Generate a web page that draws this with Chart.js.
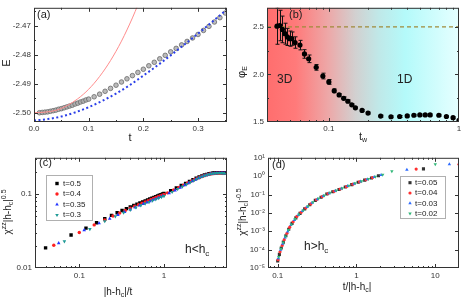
<!DOCTYPE html>
<html><head><meta charset="utf-8">
<script src="https://cdn.jsdelivr.net/npm/chart.js@4.4.1/dist/chart.umd.min.js"></script>
<style>
html,body{margin:0;padding:0;background:#fff;}
#wrap{position:relative;width:464px;height:301px;overflow:hidden;background:#fff;}
canvas{position:absolute;}
</style></head><body>
<div id="wrap">
<canvas id="ca" width="232" height="150" style="left:0;top:0"></canvas>
<canvas id="cb" width="232" height="150" style="left:232px;top:0"></canvas>
<canvas id="cc" width="232" height="151" style="left:0;top:150px"></canvas>
<canvas id="cd" width="232" height="151" style="left:232px;top:150px"></canvas>
</div>
<script>
// ---------------- Panel (a) ----------------
const aT = [0.010,0.015,0.020,0.025,0.030,0.035,0.040,0.045,0.050,0.055,0.060,0.065,0.070,0.075,0.080,0.085,0.090,0.095,0.100,
  0.11,0.12,0.13,0.14,0.15,0.16,0.17,0.18,0.19,0.20,0.21,0.22,0.23,0.24,0.25,0.26,0.27,0.28,0.29,0.30,0.31,0.32,0.33,0.34,0.35];
const aE = [-2.5000,-2.4999,-2.4998,-2.4997,-2.4995,-2.4993,-2.4991,-2.4988,-2.4986,-2.4983,-2.4980,-2.4977,-2.4974,-2.4970,-2.4967,-2.4963,-2.4960,-2.4956,-2.4953,
  -2.4945,-2.4936,-2.4926,-2.4916,-2.4905,-2.4894,-2.4883,-2.4872,-2.4861,-2.4850,-2.4838,-2.4826,-2.4814,-2.4802,-2.4790,-2.4778,-2.4766,-2.4754,-2.4742,-2.4730,-2.4716,-2.4702,-2.4687,-2.4672,-2.4656];
const aRedT = [0,0.02,0.04,0.06,0.08,0.10,0.12,0.14,0.16,0.18,0.19];
const aRedE = [-2.5000,-2.4998,-2.4992,-2.4976,-2.4952,-2.4919,-2.4875,-2.4820,-2.4753,-2.4673,-2.4628];
const aBlueT = [0,0.025,0.05,0.075,0.10,0.125,0.15,0.175,0.20,0.225,0.25,0.275,0.30,0.325,0.35,0.355];
const aBlueE = [-2.5027,-2.5022,-2.5013,-2.4999,-2.4981,-2.4959,-2.4934,-2.4905,-2.4872,-2.4838,-2.4802,-2.4765,-2.4727,-2.4688,-2.4648,-2.4640];
const aXTicks = [0.0,0.1,0.2,0.3];
const aYTicks = [-2.50,-2.49,-2.48,-2.47];

// ---------------- Panel (b) ----------------
const bTw  = [0.040,0.042,0.044,0.046,0.048,0.050,0.052,0.055,0.060,0.065,0.070,0.080,0.090,0.100,0.110,0.120,0.130,0.140,0.150,0.160,0.180,0.200,0.250,0.300,0.350,0.400,0.450,0.500,0.550,0.600,0.700,0.800,0.900,1.000];
const bPhi = [2.507,2.514,2.473,2.428,2.394,2.376,2.376,2.335,2.308,2.215,2.164,2.074,1.983,1.921,1.828,1.784,1.749,1.718,1.680,1.649,1.622,1.594,1.562,1.555,1.558,1.564,1.571,1.574,1.574,1.574,1.571,1.558,1.545,1.517];
const bErr = [0.19,0.16,0.14,0.11,0.09,0.08,0.07,0.06,0.05,0.045,0.04,0.03,0.03,0.025,0.02,0.015,0.015,0.015,0.01,0.01,0.01,0.01,0.01,0.01,0.01,0.01,0.01,0.01,0.01,0.01,0.01,0.01,0.01,0.01];
const bRef = 2.5;
const bXTicks = [0.1,1];
const bYTicks = [1.5,2.0,2.5];

// ---------------- Panel (c) ----------------
const cLabels = ['t=0.5','t=0.4','t=0.35','t=0.3'];
const c1x = [0.04,0.08,0.12,0.16,0.20,0.24,0.28,0.32,0.36,0.40,0.44,0.48,0.52,0.56,0.60,0.64,0.68,0.72,0.76,0.80,0.84,0.88,0.92,0.96,1.00,
  1.2,1.4,1.6,1.8,2.0,2.2,2.4,2.6,2.8,3.0,3.2,3.4,3.6,3.8,4.0,4.2,4.4,4.6,4.8,5.0,5.2,5.4];
const c1y = [0.0187,0.0280,0.0347,0.0410,0.0463,0.0515,0.0560,0.0600,0.0637,0.0670,0.0702,0.0732,0.0760,0.0786,0.0811,0.0835,0.0858,0.0880,0.0902,0.0923,0.0943,0.0963,0.0983,0.1002,0.1021,
  0.1115,0.1210,0.1305,0.1398,0.1485,0.1565,0.1640,0.1705,0.1762,0.1810,0.1850,0.1882,0.1908,0.1927,0.1940,0.1948,0.1952,0.1952,0.1950,0.1946,0.1940,0.1934];
const c2x = [0.05,0.10,0.15,0.20,0.25,0.30,0.35,0.40,0.45,0.50,0.55,0.60,0.65,0.70,0.75,0.80,0.85,0.90,0.95,1.00,
  1.1,1.3,1.5,1.7,1.9,2.1,2.3,2.5,2.7,2.9,3.1,3.3,3.5,3.7,3.9,4.1,4.3,4.5,4.7,4.9,5.1,5.3,5.5];
const c2y = [0.0203,0.0303,0.0383,0.0447,0.0505,0.0556,0.0602,0.0645,0.0684,0.0720,0.0754,0.0786,0.0816,0.0845,0.0872,0.0898,0.0923,0.0947,0.0970,0.0993,
  0.1040,0.1135,0.1230,0.1325,0.1415,0.1500,0.1578,0.1648,0.1710,0.1762,0.1805,0.1840,0.1868,0.1890,0.1905,0.1915,0.1920,0.1922,0.1921,0.1918,0.1914,0.1909,0.1903];
const c3x = [0.0571,0.1143,0.1714,0.2286,0.2857,0.3429,0.4,0.4571,0.5143,0.5714,0.6286,0.6857,0.7429,0.8,0.8571,0.9143,0.9714,
  1.15,1.35,1.55,1.75,1.95,2.15,2.35,2.55,2.75,2.95,3.15,3.35,3.55,3.75,3.95,4.15,4.35,4.55,4.75,4.95,5.15,5.35];
const c3y = [0.0217,0.0326,0.0403,0.0466,0.0522,0.0572,0.0618,0.0660,0.0700,0.0737,0.0771,0.0803,0.0834,0.0863,0.0891,0.0918,0.0944,
  0.1030,0.1125,0.1220,0.1315,0.1405,0.1490,0.1570,0.1642,0.1705,0.1760,0.1806,0.1843,0.1873,0.1896,0.1912,0.1922,0.1927,0.1928,0.1926,0.1922,0.1917,0.1911];
const c4x = [0.0667,0.1333,0.2,0.2667,0.3333,0.4,0.4667,0.5333,0.6,0.6667,0.7333,0.8,0.8667,0.9333,1.0,
  1.25,1.45,1.65,1.85,2.05,2.25,2.45,2.65,2.85,3.05,3.25,3.45,3.65,3.85,4.05,4.25,4.45,4.65,4.85,5.05,5.25,5.45];
const c4y = [0.0229,0.0336,0.0430,0.0500,0.0560,0.0612,0.0660,0.0703,0.0743,0.0780,0.0815,0.0848,0.0879,0.0909,0.0938,
  0.1070,0.1170,0.1265,0.1358,0.1447,0.1530,0.1606,0.1673,0.1732,0.1782,0.1824,0.1858,0.1885,0.1904,0.1917,0.1925,0.1929,0.1929,0.1927,0.1923,0.1918,0.1912];
const cXTicks = [0.1,1];
const cYTicks = [0.01,0.1];

// ---------------- Panel (d) ----------------
const dLabels = ['t=0.05','t=0.04','t=0.03','t=0.02'];
const d1x = [0.100,0.105,0.111,0.118,0.127,0.138,0.152,0.170,0.192,0.22,0.255,0.30,0.355,0.42,0.50,0.60,0.72,0.87,1.05,1.27,1.55,1.9,7.08];
const d1y = [2.4e-5,5.5e-5,1.23e-4,2.57e-4,5.75e-4,1.29e-3,2.69e-3,5.37e-3,9.4e-3,0.0165,0.0276,0.0482,0.0716,0.107,0.141,0.189,0.255,0.348,0.466,0.605,0.797,1.06,2.51];
const d2x = [0.101,0.107,0.114,0.121,0.131,0.142,0.157,0.175,0.198,0.227,0.263,0.31,0.367,0.435,0.52,0.62,0.745,0.9,1.09,1.32,1.6,5.72,20];
const d2y = [2.84e-5,7.6e-5,1.7e-4,3.47e-4,7.8e-4,1.68e-3,3.29e-3,6.46e-3,0.0107,0.0185,0.0308,0.052,0.0776,0.113,0.150,0.20,0.269,0.367,0.491,0.638,0.834,2.42,4.44];
const d3x = [0.102,0.109,0.116,0.124,0.134,0.147,0.163,0.183,0.206,0.236,0.274,0.32,0.38,0.45,0.54,0.645,0.775,0.935,1.13,1.37,1.68,2.05,4.36,15.1];
const d3y = [3.37e-5,9.95e-5,2.1e-4,4.57e-4,9.66e-4,2.18e-3,4.15e-3,7.76e-3,0.0126,0.0212,0.0354,0.0561,0.0841,0.119,0.160,0.212,0.287,0.391,0.515,0.67,0.896,1.15,2.22,4.44];
const d4x = [0.103,0.110,0.1175,0.1255,0.137,0.149,0.166,0.186,0.21,0.242,0.28,0.33,0.39,0.46,0.555,0.66,0.80,0.96,1.16,1.42,1.74,2.15,2.81,10];
const d4y = [3.97e-5,1.11e-4,2.44e-4,5.18e-4,1.19e-3,2.37e-3,4.66e-3,8.3e-3,0.0136,0.0231,0.0381,0.0604,0.0895,0.124,0.167,0.221,0.303,0.408,0.535,0.705,0.942,1.21,1.83,4.44];
const dXTicks = [0.1,1,10];
const dYTicks = [1e-5,1e-4,1e-3,1e-2,1e-1,1,10];
const dYTickLabels = ['10\u207B\u2075','10\u207B\u2074','10\u207B\u00B3','10\u207B\u00B2','10\u207B\u00B9','10\u2070','10\u00B9'];

// ---------------- helpers ----------------
const FONT = "'Liberation Sans', Arial, Helvetica, sans-serif";
Chart.defaults.font.family = FONT;
Chart.defaults.font.size = 8;
Chart.defaults.color = '#333';
const pts = (xs, ys) => xs.map((x, i) => ({x, y: ys[i]}));

function logMinors(lo, hi) {
  const out = [];
  for (let e = Math.floor(Math.log10(lo)) - 1; e <= Math.ceil(Math.log10(hi)); e++) {
    for (let k = 2; k <= 9; k++) { const v = k * Math.pow(10, e); if (v > lo && v < hi) out.push(v); }
  }
  return out;
}

function rich(ctx, parts, x, y, size, rot, align) {
  ctx.save();
  ctx.translate(x, y);
  if (rot) ctx.rotate(rot);
  ctx.fillStyle = '#222';
  ctx.textBaseline = 'middle';
  const fs = p => (p[1] === 'n' ? size : Math.round(size * 0.66));
  let w = 0;
  parts.forEach(p => { ctx.font = fs(p) + 'px ' + FONT; w += ctx.measureText(p[0]).width; });
  let cx = align === 'left' ? 0 : -w / 2;
  parts.forEach(p => {
    ctx.font = fs(p) + 'px ' + FONT;
    const dy = p[1] === 'sub' ? size * 0.32 : (p[1] === 'sup' ? -size * 0.38 : 0);
    ctx.fillText(p[0], cx, dy);
    cx += ctx.measureText(p[0]).width;
  });
  ctx.restore();
}

function scaleCfg(type, min, max, majors, fmt, fit, isY, pad) {
  return {
    type, min, max,
    grid: {display: false, drawTicks: false, tickLength: 0}, border: {display: false},
    ticks: {autoSkip: false, maxRotation: 0, minRotation: 0, padding: pad, color: '#333', font: {size: 8},
      callback: (v, i) => fmt(majors[i], i)},
    afterBuildTicks: s => { s.ticks = majors.map(v => ({value: v})); },
    afterFit: s => { if (isY) s.width = fit; else s.height = fit; }
  };
}

const framePlugin = {
  id: 'frame',
  afterDatasetsDraw(chart, args, o) {
    const {ctx, chartArea: a} = chart;
    const xs = chart.scales.x, ys = chart.scales.y;
    ctx.save();
    ctx.strokeStyle = '#333'; ctx.lineWidth = 1;
    ctx.strokeRect(a.left + 0.5, a.top + 0.5, a.right - a.left - 1, a.bottom - a.top - 1);
    const tx = (vals, len) => vals.forEach(v => {
      const p = Math.round(xs.getPixelForValue(v)) + 0.5;
      if (p <= a.left + 1 || p >= a.right - 1) return;
      ctx.beginPath(); ctx.moveTo(p, a.bottom); ctx.lineTo(p, a.bottom - len);
      ctx.moveTo(p, a.top); ctx.lineTo(p, a.top + len); ctx.stroke();
    });
    const ty = (vals, len) => vals.forEach(v => {
      const p = Math.round(ys.getPixelForValue(v)) + 0.5;
      if (p <= a.top + 1 || p >= a.bottom - 1) return;
      ctx.beginPath(); ctx.moveTo(a.left, p); ctx.lineTo(a.left + len, p);
      ctx.moveTo(a.right, p); ctx.lineTo(a.right - len, p); ctx.stroke();
    });
    tx(o.xMaj || [], 4); tx(o.xMin || [], 2); ty(o.yMaj || [], 4); ty(o.yMin || [], 2);
    ctx.restore();
  },
  afterDraw(chart, args, o) {
    const ctx = chart.ctx;
    (o.texts || []).forEach(t => rich(ctx, t.parts, t.x, t.y, t.size, t.rot || 0, t.align));
    if (o.legend) {
      const L = o.legend;
      ctx.save();
      ctx.fillStyle = '#fff'; ctx.strokeStyle = '#b0b0b0'; ctx.lineWidth = 1;
      ctx.fillRect(L.x0, L.y0, L.x1 - L.x0, L.y1 - L.y0);
      ctx.strokeRect(L.x0 + 0.5, L.y0 + 0.5, L.x1 - L.x0, L.y1 - L.y0);
      L.items.forEach((it, i) => {
        const y = L.rows[i];
        ctx.fillStyle = it.color;
        drawMarker(ctx, it.style, L.mx, y, it.r);
        ctx.fillStyle = '#222';
        ctx.font = '8px ' + FONT; ctx.textBaseline = 'middle'; ctx.textAlign = 'left';
        ctx.fillText(it.label, L.tx, y);
      });
      ctx.restore();
    }
  }
};

function drawMarker(ctx, style, x, y, r) {
  ctx.beginPath();
  if (style === 'rect') { const s = r * Math.SQRT1_2; ctx.rect(x - s, y - s, 2 * s, 2 * s); }
  else if (style === 'circle') { ctx.arc(x, y, r, 0, Math.PI * 2); }
  else if (style === 'tri') { ctx.moveTo(x, y - r); ctx.lineTo(x + r * 0.866, y + r * 0.5); ctx.lineTo(x - r * 0.866, y + r * 0.5); ctx.closePath(); }
  else if (style === 'itri') { ctx.moveTo(x, y + r); ctx.lineTo(x + r * 0.866, y - r * 0.5); ctx.lineTo(x - r * 0.866, y - r * 0.5); ctx.closePath(); }
  ctx.fill();
}

const bgPlugin = {
  id: 'bg',
  beforeDatasetsDraw(chart, args, o) {
    if (!o.on) return;
    const {ctx, chartArea: a} = chart;
    const g = ctx.createLinearGradient(a.left, 0, a.right, 0);
    g.addColorStop(0.00, '#ff6e6e');
    g.addColorStop(0.15, '#ff7a7a');
    g.addColorStop(0.32, '#eda8a8');
    g.addColorStop(0.46, '#d2d0d0');
    g.addColorStop(0.58, '#c0e8e8');
    g.addColorStop(0.72, '#b4fafa');
    g.addColorStop(1.00, '#e6ffff');
    ctx.save(); ctx.fillStyle = g; ctx.fillRect(a.left, a.top, a.right - a.left, a.bottom - a.top);
    const xs = chart.scales.x, ys = chart.scales.y;
    ctx.beginPath(); ctx.rect(a.left, a.top, a.right - a.left, a.bottom - a.top); ctx.clip();
    ctx.strokeStyle = '#111'; ctx.lineWidth = 1;
    bTw.forEach((t, i) => {
      const x = Math.round(xs.getPixelForValue(t)) + 0.5;
      const y0 = ys.getPixelForValue(bPhi[i] - bErr[i]), y1 = ys.getPixelForValue(bPhi[i] + bErr[i]);
      ctx.beginPath(); ctx.moveTo(x, y0); ctx.lineTo(x, y1);
      ctx.moveTo(x - 2, y0); ctx.lineTo(x + 2, y0); ctx.moveTo(x - 2, y1); ctx.lineTo(x + 2, y1); ctx.stroke();
    });
    ctx.restore();
  }
};

const baseOpts = (pad, scales, frame, bg) => ({
  responsive: false, animation: false, devicePixelRatio: 1,
  layout: {padding: pad, autoPadding: false},
  plugins: {legend: {display: false}, tooltip: {enabled: false}, frame, bg: bg || {on: false}},
  scales
});

// ---------------- Chart (a) ----------------
new Chart(document.getElementById('ca'), {
  type: 'scatter',
  data: {datasets: [
    {data: pts(aRedT, aRedE), showLine: true, pointRadius: 0, borderColor: '#ff8c8c', borderWidth: 1, cubicInterpolationMode: 'monotone'},
    {data: pts(aBlueT, aBlueE), showLine: true, pointRadius: 0, borderColor: '#2b3fe8', borderWidth: 2, borderDash: [2, 2.5], cubicInterpolationMode: 'monotone'},
    {data: pts(aT, aE), pointRadius: 2.3, backgroundColor: 'rgba(175,175,175,0.85)', borderColor: '#6a6a6a', borderWidth: 0.8}
  ]},
  options: baseOpts({left: 0, right: 5, top: 5, bottom: 0}, {
    x: scaleCfg('linear', 0, 0.353, aXTicks, v => v.toFixed(1), 28, false, 2),
    y: scaleCfg('linear', -2.5032, -2.4638, aYTicks, v => v.toFixed(2), 34, true, 3)
  }, {
    xMaj: aXTicks, xMin: [0.05, 0.15, 0.25, 0.35], yMaj: aYTicks, yMin: [-2.495, -2.485, -2.475, -2.465],
    texts: [
      {parts: [['(a)', 'n']], x: 37, y: 15, size: 11, align: 'left'},
      {parts: [['E', 'n']], x: 7, y: 63, size: 11, rot: -Math.PI / 2},
      {parts: [['t', 'n']], x: 130, y: 138, size: 11}
    ]
  })
  , plugins: [framePlugin]
});

// ---------------- Chart (b) ----------------
new Chart(document.getElementById('cb'), {
  type: 'scatter',
  data: {datasets: [
    {data: pts(bTw, bPhi), pointRadius: 2.6, backgroundColor: '#000', borderWidth: 0},
    {data: [{x: 0.0335, y: bRef}, {x: 1, y: bRef}], showLine: true, pointRadius: 0, borderColor: '#a08a3a', borderWidth: 1.3, borderDash: [4, 3]}
  ]},
  options: baseOpts({left: 0, right: 5, top: 5, bottom: 0}, {
    x: scaleCfg('logarithmic', 0.0335, 1.0, bXTicks, v => (v === 1 ? '1' : '0.1'), 28, false, 2),
    y: scaleCfg('linear', 1.5, 2.7, bYTicks, v => v.toFixed(1), 35, true, 3)
  }, {
    xMaj: bXTicks, xMin: logMinors(0.0335, 1.0), yMaj: bYTicks, yMin: [1.75, 2.25],
    texts: [
      {parts: [['(b)', 'n']], x: 57, y: 15, size: 11, align: 'left'},
      {parts: [['3D', 'n']], x: 45, y: 80, size: 12, align: 'left'},
      {parts: [['1D', 'n']], x: 165, y: 80, size: 12, align: 'left'},
      {parts: [['\u03C6', 'n'], ['E', 'sub']], x: 10, y: 72, size: 11, rot: -Math.PI / 2},
      {parts: [['t', 'n'], ['w', 'sub']], x: 131, y: 137, size: 11}
    ]
  }, {on: true}),
  plugins: [bgPlugin, framePlugin]
});

// ---------------- Chart (c) ----------------
const cCols = ['#000000', '#ff2020', '#2436ff', '#1f9a96'];
new Chart(document.getElementById('cc'), {
  type: 'scatter',
  data: {datasets: [
    {data: pts(c1x, c1y), pointStyle: 'rect', pointRadius: 2.4, backgroundColor: cCols[0], borderWidth: 0, order: 4},
    {data: pts(c2x, c2y), pointStyle: 'circle', pointRadius: 1.7, backgroundColor: cCols[1], borderWidth: 0, order: 3},
    {data: pts(c3x, c3y), pointStyle: 'triangle', pointRadius: 2.1, backgroundColor: cCols[2], borderWidth: 0, order: 2},
    {data: pts(c4x, c4y), pointStyle: 'triangle', rotation: 180, pointRadius: 2.1, backgroundColor: cCols[3], borderWidth: 0, order: 1}
  ]},
  options: baseOpts({left: 0, right: 5, top: 5, bottom: 0}, {
    x: scaleCfg('logarithmic', 0.030, 5.55, cXTicks, v => (v === 1 ? '1' : '0.1'), 33, false, 3),
    y: scaleCfg('logarithmic', 0.01, 0.31, cYTicks, v => (v === 0.1 ? '0.1' : '0.01'), 35, true, 3)
  }, {
    xMaj: cXTicks, xMin: logMinors(0.030, 5.55), yMaj: cYTicks, yMin: logMinors(0.01, 0.31),
    texts: [
      {parts: [['(c)', 'n']], x: 39, y: 13, size: 11, align: 'left'},
      {parts: [['h<h', 'n'], ['c', 'sub']], x: 185, y: 100, size: 12, align: 'left'},
      {parts: [['\u03C7', 'n'], ['zz', 'sup'], ['|h-h', 'n'], ['c', 'sub'], ['|', 'n'], ['0.5', 'sup']], x: 8, y: 62, size: 10, rot: -Math.PI / 2},
      {parts: [['|h-h', 'n'], ['c', 'sub'], ['|/t', 'n']], x: 118, y: 142, size: 10}
    ],
    legend: {x0: 46, y0: 25, x1: 92, y1: 70, mx: 57, tx: 63, rows: [33.5, 44, 54.5, 65],
      items: [
        {label: cLabels[0], color: cCols[0], style: 'rect', r: 2.4},
        {label: cLabels[1], color: cCols[1], style: 'circle', r: 1.7},
        {label: cLabels[2], color: cCols[2], style: 'tri', r: 2.1},
        {label: cLabels[3], color: cCols[3], style: 'itri', r: 2.1}
      ]}
  }),
  plugins: [framePlugin]
});

// ---------------- Chart (d) ----------------
const dCols = ['#333333', '#ff3030', '#2d6bff', '#33b87a'];
new Chart(document.getElementById('cd'), {
  type: 'scatter',
  data: {datasets: [
    {data: pts(d1x, d1y), pointStyle: 'rect', pointRadius: 2.2, backgroundColor: dCols[0], borderWidth: 0, order: 4},
    {data: pts(d2x, d2y), pointStyle: 'circle', pointRadius: 1.6, backgroundColor: dCols[1], borderWidth: 0, order: 3},
    {data: pts(d3x, d3y), pointStyle: 'triangle', pointRadius: 2.0, backgroundColor: dCols[2], borderWidth: 0, order: 2},
    {data: pts(d4x, d4y), pointStyle: 'triangle', rotation: 180, pointRadius: 2.0, backgroundColor: dCols[3], borderWidth: 0, order: 1}
  ]},
  options: baseOpts({left: 0, right: 5, top: 4, bottom: 0}, {
    x: scaleCfg('logarithmic', 0.0753, 20, dXTicks, v => (v === 0.1 ? '0.1' : String(v)), 33, false, 3),
    y: scaleCfg('logarithmic', 1e-5, 10, dYTicks, (v, i) => dYTickLabels[i], 36, true, 3)
  }, {
    xMaj: dXTicks, xMin: logMinors(0.0753, 20), yMaj: dYTicks, yMin: [],
    texts: [
      {parts: [['(d)', 'n']], x: 40, y: 15, size: 11, align: 'left'},
      {parts: [['h>h', 'n'], ['c', 'sub']], x: 72, y: 97, size: 12, align: 'left'},
      {parts: [['\u03C7', 'n'], ['zz', 'sup'], ['|h-h', 'n'], ['c', 'sub'], ['|', 'n'], ['-0.5', 'sup']], x: 11, y: 62, size: 10, rot: -Math.PI / 2},
      {parts: [['t/|h-h', 'n'], ['c', 'sub'], ['|', 'n']], x: 125, y: 137, size: 10}
    ],
    legend: {x0: 168, y0: 26, x1: 213, y1: 68, mx: 178, tx: 183, rows: [32.7, 43, 53.3, 63.6],
      items: [
        {label: dLabels[0], color: dCols[0], style: 'rect', r: 2.2},
        {label: dLabels[1], color: dCols[1], style: 'circle', r: 1.6},
        {label: dLabels[2], color: dCols[2], style: 'tri', r: 2.0},
        {label: dLabels[3], color: dCols[3], style: 'itri', r: 2.0}
      ]}
  }),
  plugins: [framePlugin]
});
</script>
</body></html>
